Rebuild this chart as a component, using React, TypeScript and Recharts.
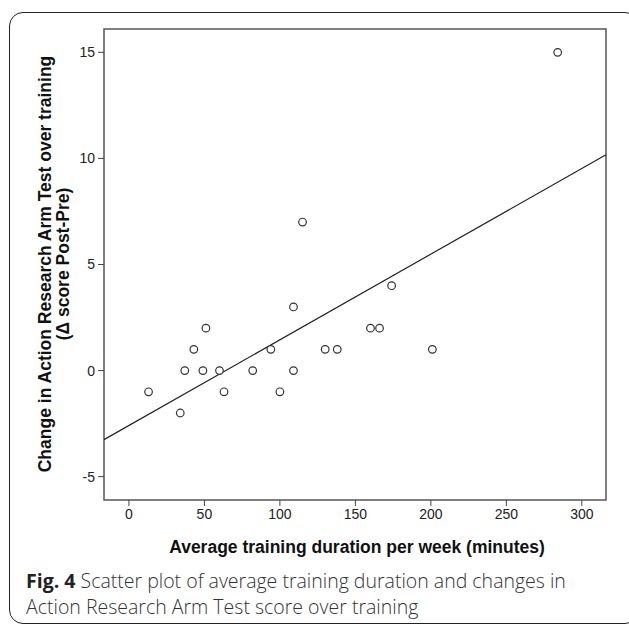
import React from 'react'
import {
  ScatterChart,
  Scatter,
  XAxis,
  YAxis,
  ReferenceLine,
  ReferenceArea,
  Label,
} from 'recharts'

// minutes per week vs change in ARAT score
const trainingMinutes = [13, 34, 37, 43, 51, 49, 60, 63, 82, 94, 100, 109, 109, 115, 130, 138, 160, 166, 174, 201, 284]
const aratChange = [-1, -2, 0, 1, 2, 0, 0, -1, 0, 1, -1, 3, 0, 7, 1, 1, 2, 2, 4, 1, 15]

const xTicks = [0, 50, 100, 150, 200, 250, 300]
const yTicks = [-5, 0, 5, 10, 15]
const xDomain: [number, number] = [-16.5, 316]
const yDomain: [number, number] = [-6.1, 16.1]

const points = trainingMinutes.map((x, i) => ({ x, y: aratChange[i] }))

// least squares fit line
function fitLine(xs: number[], ys: number[]) {
  const n = xs.length
  const mx = xs.reduce((a, b) => a + b, 0) / n
  const my = ys.reduce((a, b) => a + b, 0) / n
  let sxy = 0
  let sxx = 0
  xs.forEach((x, i) => {
    sxy += (x - mx) * (ys[i] - my)
    sxx += (x - mx) * (x - mx)
  })
  const slope = sxy / sxx
  return { slope, intercept: my - slope * mx }
}

const fit = fitLine(trainingMinutes, aratChange)
const fitAt = (x: number) => fit.intercept + fit.slope * x

const tickStyle = { fontSize: 14, fill: '#222', fontFamily: 'Liberation Sans, Arial, sans-serif' }
const titleFont = 'Liberation Sans, Arial, sans-serif'

function OpenCircle(props: any) {
  const { cx, cy } = props
  return <circle cx={cx} cy={cy} r={3.8} fill="#fff" stroke="#333" strokeWidth={1.2} />
}

function YTitle() {
  return (
    <g>
      <text
        x={45}
        y={264}
        transform="rotate(-90 45 264)"
        textAnchor="middle"
        dominantBaseline="central"
        fontFamily={titleFont}
        fontWeight="bold"
        fontSize={17.5}
        fill="#111"
      >
        Change in Action Research Arm Test over training
      </text>
      <text
        x={63}
        y={264}
        transform="rotate(-90 63 264)"
        textAnchor="middle"
        dominantBaseline="central"
        fontFamily={titleFont}
        fontWeight="bold"
        fontSize={17.5}
        fill="#111"
      >
        (Δ score Post-Pre)
      </text>
    </g>
  )
}

function XTitle() {
  return (
    <text
      x={357}
      y={547}
      textAnchor="middle"
      dominantBaseline="central"
      fontFamily={titleFont}
      fontWeight="bold"
      fontSize={17.5}
      fill="#111"
    >
      Average training duration per week (minutes)
    </text>
  )
}

export default function App() {
  return (
    <div style={{ position: 'absolute', left: 0, top: 0, width: 629, height: 626, background: '#fff' }}>
      <div
        style={{
          position: 'absolute',
          left: 9,
          top: 12,
          width: 630,
          height: 612,
          border: '1.5px solid #222',
          borderRadius: 14,
          boxSizing: 'border-box',
        }}
      />
      <div style={{ position: 'absolute', left: 0, top: 0 }}>
        <ScatterChart
          width={629}
          height={626}
          margin={{ top: 29, right: 23, bottom: 96, left: 44 }}
        >
          <XAxis
            type="number"
            dataKey="x"
            domain={xDomain}
            ticks={xTicks}
            allowDataOverflow
            height={30}
            tick={tickStyle}
            tickSize={6}
            tickMargin={3}
            stroke="#444"
            axisLine={false}
          >
            <Label content={<XTitle />} />
          </XAxis>
          <YAxis
            type="number"
            dataKey="y"
            domain={yDomain}
            ticks={yTicks}
            allowDataOverflow
            width={60}
            tick={tickStyle}
            tickSize={6}
            tickMargin={3}
            stroke="#444"
            axisLine={false}
          >
            <Label content={<YTitle />} />
          </YAxis>
          <ReferenceArea
            x1={xDomain[0]}
            x2={xDomain[1]}
            y1={yDomain[0]}
            y2={yDomain[1]}
            fill="none"
            stroke="#555"
            strokeWidth={1.5}
          />
          <ReferenceLine
            segment={[
              { x: xDomain[0], y: fitAt(xDomain[0]) },
              { x: xDomain[1], y: fitAt(xDomain[1]) },
            ]}
            stroke="#222"
            strokeWidth={1.2}
          />
          <Scatter data={points} shape={OpenCircle} isAnimationActive={false} />
        </ScatterChart>
      </div>
      <div
        style={{
          position: 'absolute',
          left: 26,
          top: 568,
          width: 600,
          whiteSpace: 'nowrap',
          fontFamily: '"Open Sans", sans-serif',
          fontWeight: 300,
          fontSize: 19.5,
          lineHeight: '26px',
          color: '#333',
        }}
      >
        <b style={{ fontWeight: 700, color: '#222' }}>Fig. 4</b> Scatter plot of average training duration and changes in
        <br />
        Action Research Arm Test score over training
      </div>
    </div>
  )
}
